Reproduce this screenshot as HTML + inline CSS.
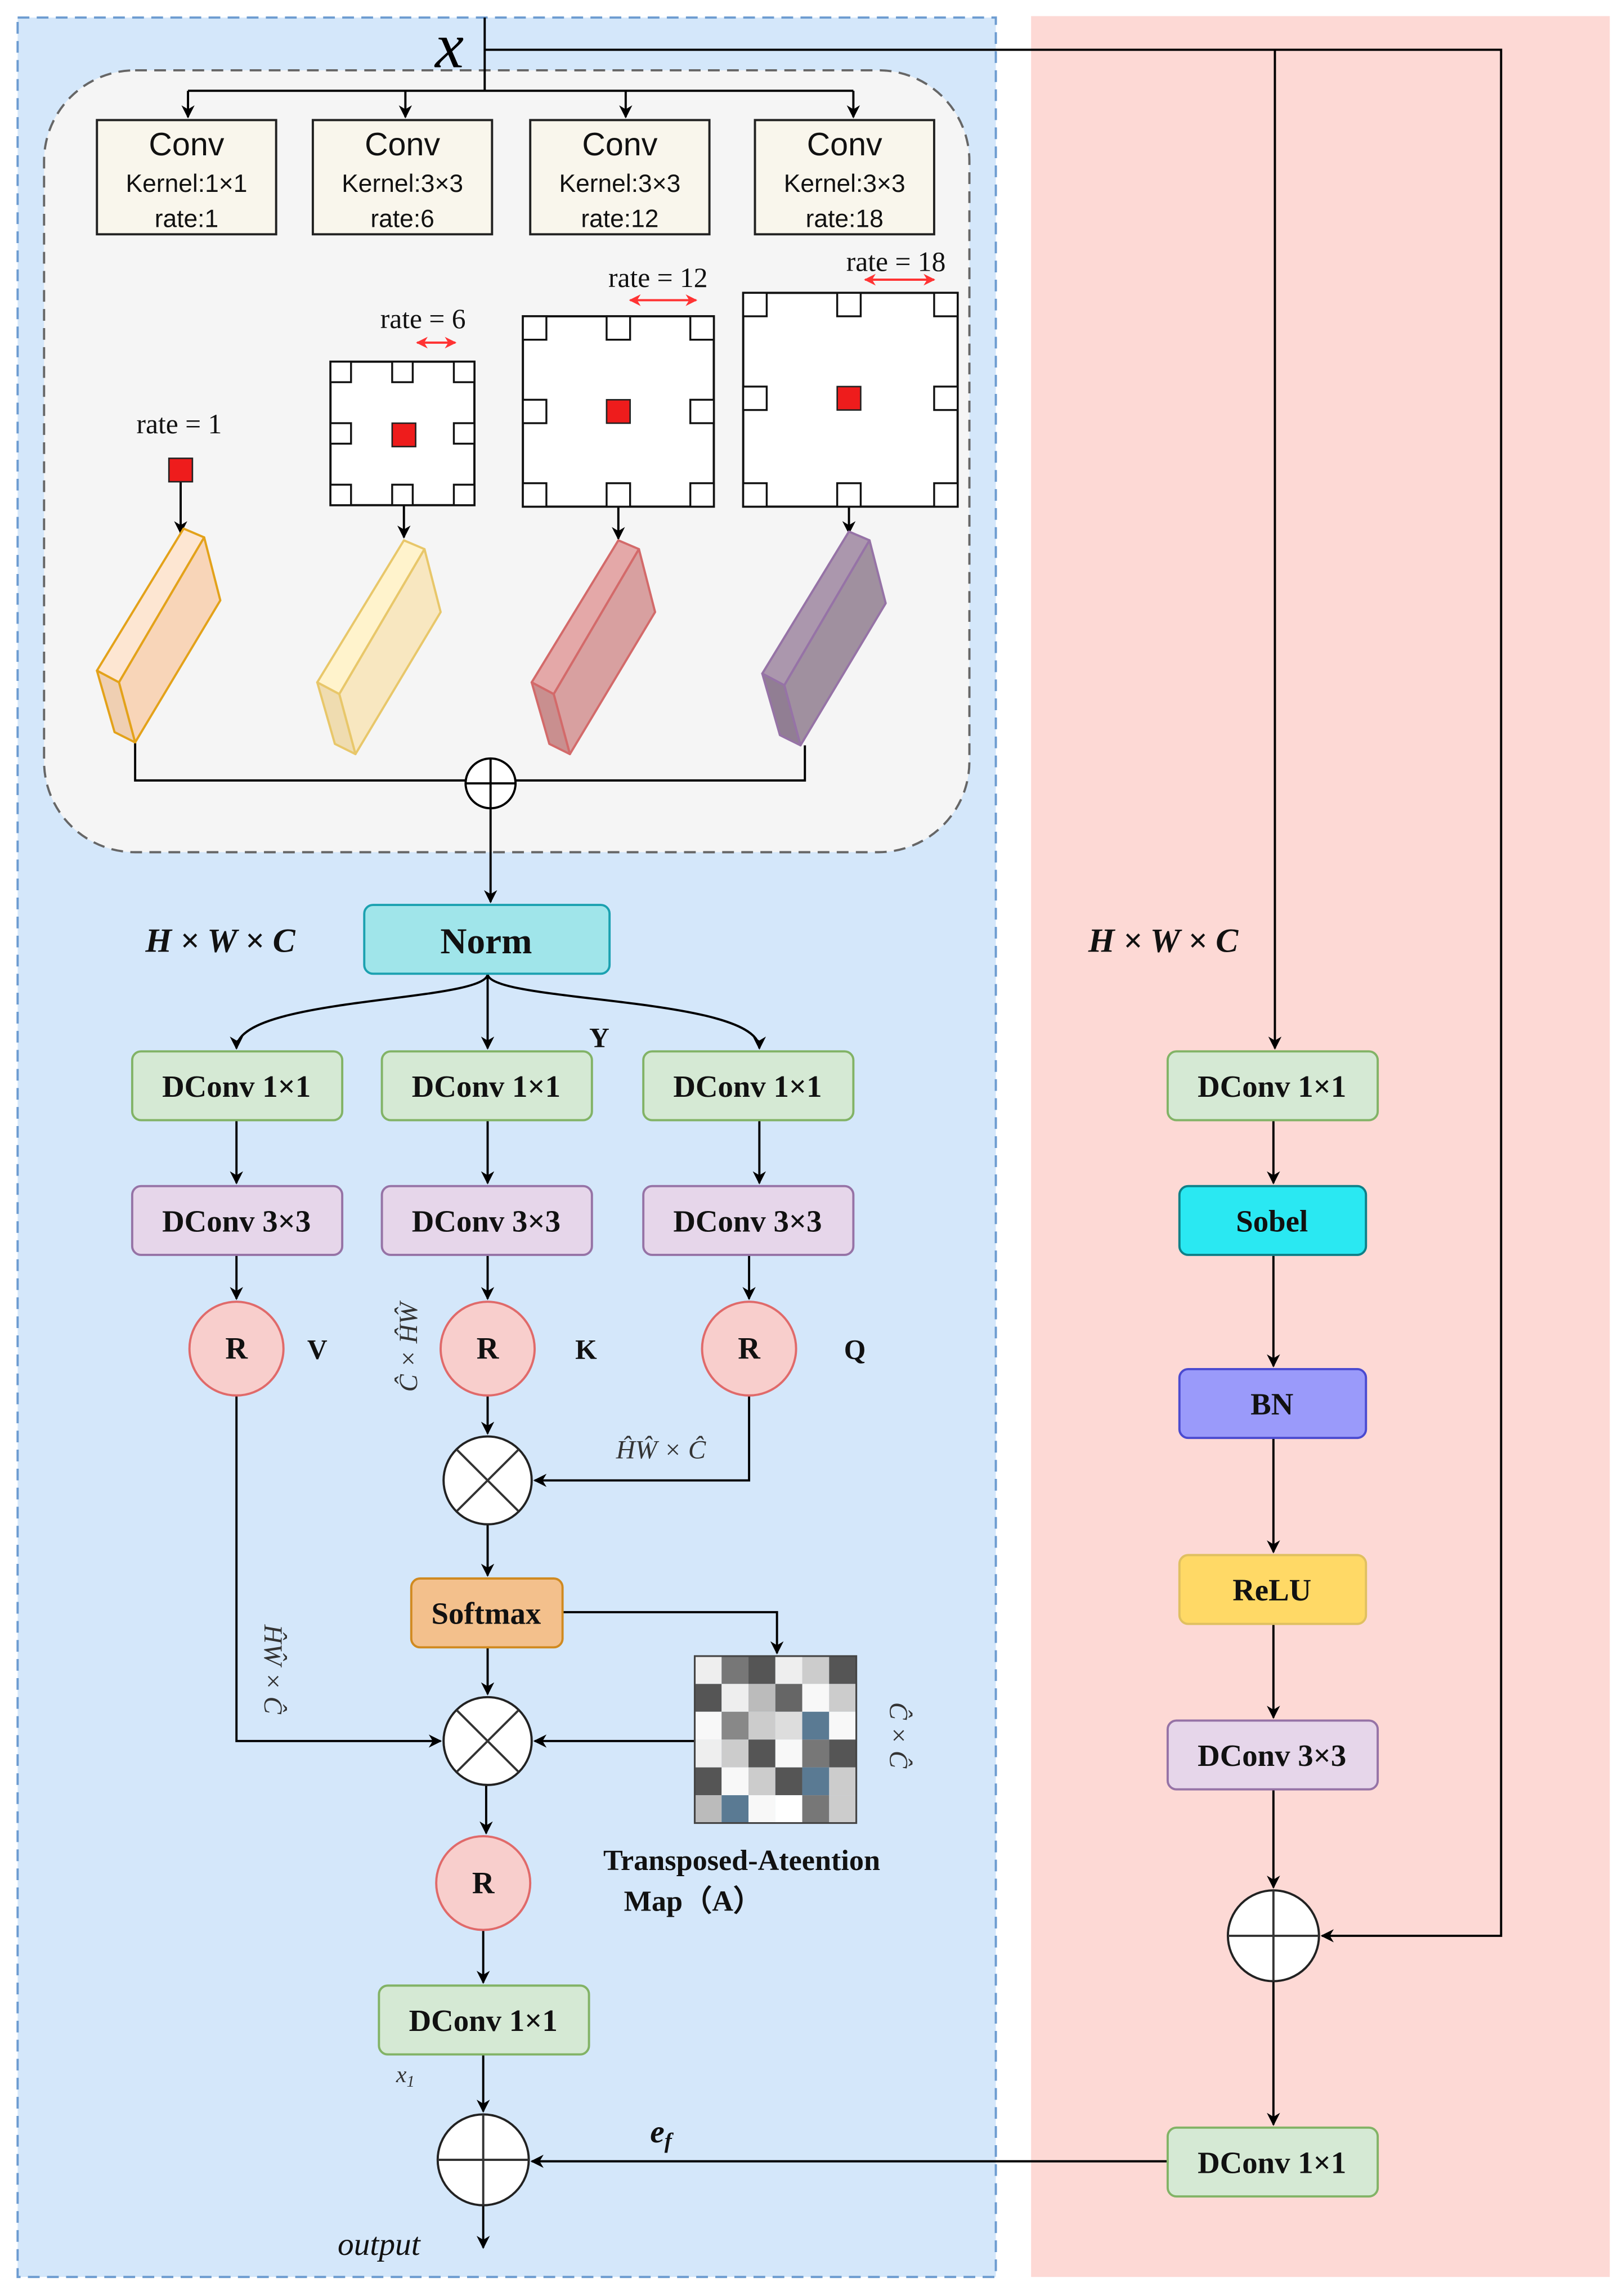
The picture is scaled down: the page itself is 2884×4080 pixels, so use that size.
<!DOCTYPE html>
<html><head><meta charset="utf-8"><style>html,body{margin:0;padding:0;background:#fff}svg{display:block}</style></head>
<body>
<svg width="2884" height="4080" viewBox="0 0 1105 1568" preserveAspectRatio="none" xmlns="http://www.w3.org/2000/svg">
<defs>
<marker id="a" viewBox="0 0 10 10" refX="9" refY="5" markerWidth="9" markerHeight="9" orient="auto-start-reverse" markerUnits="userSpaceOnUse"><path d="M0,0 L10,5 L0,10 L3,5 z" fill="#000"/></marker>
<marker id="r" viewBox="0 0 10 10" refX="9" refY="5" markerWidth="8" markerHeight="8" orient="auto-start-reverse" markerUnits="userSpaceOnUse"><path d="M0,0 L10,5 L0,10 L3,5 z" fill="#f33"/></marker>
</defs>
<rect width="1105" height="1568" fill="#fff"/>
<rect x="12" y="12" width="666" height="1543" fill="#d4e7fa" stroke="#6c9bd0" stroke-width="1.5" stroke-dasharray="8,5"/>
<rect x="702" y="11" width="394" height="1544" fill="#fdd9d5"/>
<rect x="30" y="48" width="630" height="534" rx="62" fill="#f5f5f5" stroke="#666" stroke-width="1.5" stroke-dasharray="8,5"/>

<g stroke="#000" stroke-width="1.5" fill="none">
<path d="M330 12 V62"/>
<path d="M330 34 H1022 V1322 H900" marker-end="url(#a)"/>
<path d="M868 34 V716" marker-end="url(#a)"/>
<path d="M128 62 H581"/>
<path d="M128 62 V80" marker-end="url(#a)"/><path d="M276 62 V80" marker-end="url(#a)"/><path d="M426 62 V80" marker-end="url(#a)"/><path d="M581 62 V80" marker-end="url(#a)"/>
<path d="M123 329 V364" marker-end="url(#a)"/>
<path d="M275 345 V367" marker-end="url(#a)"/>
<path d="M421 346 V368" marker-end="url(#a)"/>
<path d="M578 346 V364" marker-end="url(#a)"/>
<path d="M92 507 V533 H548 V509"/>
<path d="M334 552 V616" marker-end="url(#a)"/>
<path d="M332 665 C332 685 161 680 161 716" marker-end="url(#a)"/>
<path d="M332 665 V716" marker-end="url(#a)"/>
<path d="M332 665 C332 685 517 680 517 716" marker-end="url(#a)"/>
<path d="M161 765 V808" marker-end="url(#a)"/><path d="M332 765 V808" marker-end="url(#a)"/><path d="M517 765 V808" marker-end="url(#a)"/>
<path d="M161 857 V887" marker-end="url(#a)"/><path d="M332 857 V887" marker-end="url(#a)"/><path d="M510 857 V887" marker-end="url(#a)"/>
<path d="M332 953 V979" marker-end="url(#a)"/>
<path d="M510 953 V1011 H364" marker-end="url(#a)"/>
<path d="M332 1041 V1076" marker-end="url(#a)"/>
<path d="M383 1101 H529 V1129" marker-end="url(#a)"/>
<path d="M332 1125 V1157" marker-end="url(#a)"/>
<path d="M161 953 V1189 H300" marker-end="url(#a)"/>
<path d="M473 1189 H364" marker-end="url(#a)"/>
<path d="M331 1219 V1252" marker-end="url(#a)"/>
<path d="M329 1318 V1354" marker-end="url(#a)"/>
<path d="M329 1403 V1442" marker-end="url(#a)"/>
<path d="M329 1506 V1535" marker-end="url(#a)"/>
<path d="M795 1476 H362" marker-end="url(#a)"/>
<path d="M867 765 V808" marker-end="url(#a)"/>
<path d="M867 857 V933" marker-end="url(#a)"/>
<path d="M867 982 V1060" marker-end="url(#a)"/>
<path d="M867 1109 V1173" marker-end="url(#a)"/>
<path d="M867 1222 V1289" marker-end="url(#a)"/>
<path d="M867 1353 V1451" marker-end="url(#a)"/>
</g>

<text x="306" y="46" font-family="Liberation Serif,serif" font-style="italic" font-size="44" text-anchor="middle">x</text>

<g fill="#f9f6ec" stroke="#222" stroke-width="1.5">
<rect x="66" y="82" width="122" height="78"/><rect x="213" y="82" width="122" height="78"/><rect x="361" y="82" width="122" height="78"/><rect x="514" y="82" width="122" height="78"/>
</g>
<g font-family="Liberation Sans,sans-serif" text-anchor="middle" fill="#111">
<text x="127" y="106" font-size="22">Conv</text><text x="127" y="131" font-size="17">Kernel:1×1</text><text x="127" y="155" font-size="17">rate:1</text>
<text x="274" y="106" font-size="22">Conv</text><text x="274" y="131" font-size="17">Kernel:3×3</text><text x="274" y="155" font-size="17">rate:6</text>
<text x="422" y="106" font-size="22">Conv</text><text x="422" y="131" font-size="17">Kernel:3×3</text><text x="422" y="155" font-size="17">rate:12</text>
<text x="575" y="106" font-size="22">Conv</text><text x="575" y="131" font-size="17">Kernel:3×3</text><text x="575" y="155" font-size="17">rate:18</text>
</g>

<g font-family="Liberation Serif,serif" font-size="19" text-anchor="middle" fill="#111">
<text x="122" y="296">rate = 1</text><text x="288" y="224">rate = 6</text><text x="448" y="196">rate = 12</text><text x="610" y="185">rate = 18</text>
</g>
<g stroke="#f33" stroke-width="1.5"><path d="M284 234 H310" marker-start="url(#r)" marker-end="url(#r)"/><path d="M429 205 H474" marker-start="url(#r)" marker-end="url(#r)"/><path d="M589 191 H636" marker-start="url(#r)" marker-end="url(#r)"/></g>
<rect x="115" y="313" width="16" height="16" fill="#ee1c1c" stroke="#222"/>

<g stroke="#111" stroke-width="1.5" fill="#fff">
<rect x="225" y="247" width="98" height="98"/>
<rect x="356" y="216" width="130" height="130"/>
<rect x="506" y="200" width="146" height="146"/>
</g>
<g stroke="#111" stroke-width="1.3" fill="#fff">
<rect x="225" y="247" width="14" height="14"/><rect x="267" y="247" width="14" height="14"/><rect x="309" y="247" width="14" height="14"/>
<rect x="225" y="289" width="14" height="14"/><rect x="309" y="289" width="14" height="14"/>
<rect x="225" y="331" width="14" height="14"/><rect x="267" y="331" width="14" height="14"/><rect x="309" y="331" width="14" height="14"/>
<rect x="356" y="216" width="16" height="16"/><rect x="413" y="216" width="16" height="16"/><rect x="470" y="216" width="16" height="16"/>
<rect x="356" y="273" width="16" height="16"/><rect x="470" y="273" width="16" height="16"/>
<rect x="356" y="330" width="16" height="16"/><rect x="413" y="330" width="16" height="16"/><rect x="470" y="330" width="16" height="16"/>
<rect x="506" y="200" width="16" height="16"/><rect x="570" y="200" width="16" height="16"/><rect x="636" y="200" width="16" height="16"/>
<rect x="506" y="264" width="16" height="16"/><rect x="636" y="264" width="16" height="16"/>
<rect x="506" y="330" width="16" height="16"/><rect x="570" y="330" width="16" height="16"/><rect x="636" y="330" width="16" height="16"/>
</g>
<g fill="#ee1c1c" stroke="#222"><rect x="267" y="289" width="16" height="16"/><rect x="413" y="273" width="16" height="16"/><rect x="570" y="264" width="16" height="16"/></g>

<g stroke-width="1.5" stroke-linejoin="round">
<polygon points="66,458 125,361 139,367 81,466" fill="#fde6d2" stroke="#e3a21a"/>
<polygon points="81,466 139,367 150,410 92,507" fill="#f8d5b8" stroke="#e3a21a"/>
<polygon points="66,458 81,466 92,507 78,500" fill="#efcfb2" stroke="#e3a21a"/>
</g>
<g transform="translate(150,8)" stroke-width="1.5" stroke-linejoin="round">
<polygon points="66,458 125,361 139,367 81,466" fill="#fff3cc" stroke="#e8c76a"/>
<polygon points="81,466 139,367 150,410 92,507" fill="#f8e7c0" stroke="#e8c76a"/>
<polygon points="66,458 81,466 92,507 78,500" fill="#efdcb0" stroke="#e8c76a"/>
</g>
<g transform="translate(296,8)" stroke-width="1.5" stroke-linejoin="round">
<polygon points="66,458 125,361 139,367 81,466" fill="#e4a8a8" stroke="#d36a6a"/>
<polygon points="81,466 139,367 150,410 92,507" fill="#d8a0a0" stroke="#d36a6a"/>
<polygon points="66,458 81,466 92,507 78,500" fill="#c98f8f" stroke="#d36a6a"/>
</g>
<g transform="translate(453,2)" stroke-width="1.5" stroke-linejoin="round">
<polygon points="66,458 125,361 139,367 81,466" fill="#ab97ad" stroke="#9673a6"/>
<polygon points="81,466 139,367 150,410 92,507" fill="#a0909f" stroke="#9673a6"/>
<polygon points="66,458 81,466 92,507 78,500" fill="#917e93" stroke="#9673a6"/>
</g>

<g stroke="#000" stroke-width="1.5">
<circle cx="334" cy="535" r="17" fill="#fff"/><path d="M317 535 H351 M334 518 V552"/>
</g>

<rect x="248" y="618" width="167" height="47" rx="6" fill="#a0e5ea" stroke="#1ba1b0" stroke-width="1.5"/>
<g font-family="Liberation Serif,serif" font-weight="bold" fill="#111" text-anchor="middle">
<text x="331" y="651" font-size="25">Norm</text>
<text x="150" y="650" font-size="23" font-style="italic">H × W × C</text>
<text x="792" y="650" font-size="23" font-style="italic">H × W × C</text>
<text x="408" y="715" font-size="19">Y</text>
<text x="216" y="928" font-size="19">V</text><text x="399" y="928" font-size="19">K</text><text x="582" y="928" font-size="19">Q</text>
</g>

<g stroke-width="1.5">
<g fill="#d5e9d4" stroke="#82b366">
<rect x="90" y="718" width="143" height="47" rx="6"/><rect x="260" y="718" width="143" height="47" rx="6"/><rect x="438" y="718" width="143" height="47" rx="6"/>
<rect x="795" y="718" width="143" height="47" rx="6"/><rect x="258" y="1356" width="143" height="47" rx="6"/><rect x="795" y="1453" width="143" height="47" rx="6"/>
</g>
<g fill="#e6d6ea" stroke="#9673a6">
<rect x="90" y="810" width="143" height="47" rx="6"/><rect x="260" y="810" width="143" height="47" rx="6"/><rect x="438" y="810" width="143" height="47" rx="6"/>
<rect x="795" y="1175" width="143" height="47" rx="6"/>
</g>
<rect x="803" y="810" width="127" height="47" rx="6" fill="#2ae8f2" stroke="#0e8088"/>
<rect x="803" y="935" width="127" height="47" rx="6" fill="#9a9afa" stroke="#4a4ad0"/>
<rect x="803" y="1062" width="127" height="47" rx="6" fill="#ffd966" stroke="#e0c060"/>
<rect x="280" y="1078" width="103" height="47" rx="6" fill="#f3c08c" stroke="#d08a20"/>
<g fill="#f8cecc" stroke="#e06a6a">
<circle cx="161" cy="921" r="32"/><circle cx="332" cy="921" r="32"/><circle cx="510" cy="921" r="32"/><circle cx="329" cy="1286" r="32"/>
</g>
</g>

<g font-family="Liberation Serif,serif" font-weight="bold" font-size="21" fill="#111" text-anchor="middle">
<text x="161" y="749">DConv 1×1</text><text x="331" y="749">DConv 1×1</text><text x="509" y="749">DConv 1×1</text>
<text x="866" y="749">DConv 1×1</text><text x="329" y="1387">DConv 1×1</text><text x="866" y="1484">DConv 1×1</text>
<text x="161" y="841">DConv 3×3</text><text x="331" y="841">DConv 3×3</text><text x="509" y="841">DConv 3×3</text>
<text x="866" y="1206">DConv 3×3</text>
<text x="866" y="841">Sobel</text><text x="866" y="966">BN</text><text x="866" y="1093">ReLU</text>
<text x="331" y="1109">Softmax</text>
<text x="161" y="928">R</text><text x="332" y="928">R</text><text x="510" y="928">R</text><text x="329" y="1293">R</text>
<text x="505" y="1277" font-size="20">Transposed-Ateention</text>
<text x="472" y="1305" font-size="20">Map（A）</text>
<text x="450" y="1463" font-size="22" font-style="italic">e<tspan font-size="15" dy="4">f</tspan></text>
</g>

<g stroke="#222" stroke-width="1.5" fill="#fff">
<circle cx="332" cy="1011" r="30"/><circle cx="332" cy="1189" r="30"/>
<circle cx="329" cy="1475" r="31"/><circle cx="867" cy="1322" r="31"/>
</g>
<g stroke="#333" stroke-width="1.5">
<path d="M311 990 L353 1032 M353 990 L311 1032"/>
<path d="M311 1168 L353 1210 M353 1168 L311 1210"/>
<path d="M298 1475 H360 M329 1444 V1506"/>
<path d="M836 1322 H898 M867 1291 V1353"/>
</g>

<g font-family="Liberation Serif,serif" font-style="italic" fill="#333">
<text x="450" y="996" font-size="18" text-anchor="middle">ĤŴ × Ĉ</text>
<text transform="translate(284,920) rotate(-90)" font-size="18" text-anchor="middle">Ĉ × ĤŴ</text>
<text transform="translate(180,1140) rotate(90)" font-size="18" text-anchor="middle">ĤŴ × Ĉ</text>
<text transform="translate(606,1185) rotate(90)" font-size="18" text-anchor="middle">Ĉ × Ĉ</text>
<text x="276" y="1422" font-size="16" text-anchor="middle">x<tspan font-size="11" dy="3">1</tspan></text>
<text x="258" y="1540" font-size="22" text-anchor="middle" fill="#111">output</text>
</g>

<g stroke="none">
<rect x="473" y="1131" width="18.3" height="19" fill="#eee"/><rect x="491.3" y="1131" width="18.3" height="19" fill="#777"/><rect x="509.6" y="1131" width="18.3" height="19" fill="#555"/><rect x="527.9" y="1131" width="18.3" height="19" fill="#eee"/><rect x="546.2" y="1131" width="18.3" height="19" fill="#ccc"/><rect x="564.5" y="1131" width="18.5" height="19" fill="#555"/>
<rect x="473" y="1150" width="18.3" height="19" fill="#555"/><rect x="491.3" y="1150" width="18.3" height="19" fill="#eee"/><rect x="509.6" y="1150" width="18.3" height="19" fill="#bbb"/><rect x="527.9" y="1150" width="18.3" height="19" fill="#666"/><rect x="546.2" y="1150" width="18.3" height="19" fill="#f8f8f8"/><rect x="564.5" y="1150" width="18.5" height="19" fill="#ccc"/>
<rect x="473" y="1169" width="18.3" height="19" fill="#f8f8f8"/><rect x="491.3" y="1169" width="18.3" height="19" fill="#888"/><rect x="509.6" y="1169" width="18.3" height="19" fill="#ccc"/><rect x="527.9" y="1169" width="18.3" height="19" fill="#ddd"/><rect x="546.2" y="1169" width="18.3" height="19" fill="#5a7a93"/><rect x="564.5" y="1169" width="18.5" height="19" fill="#f8f8f8"/>
<rect x="473" y="1188" width="18.3" height="19" fill="#eee"/><rect x="491.3" y="1188" width="18.3" height="19" fill="#ccc"/><rect x="509.6" y="1188" width="18.3" height="19" fill="#555"/><rect x="527.9" y="1188" width="18.3" height="19" fill="#f8f8f8"/><rect x="546.2" y="1188" width="18.3" height="19" fill="#777"/><rect x="564.5" y="1188" width="18.5" height="19" fill="#555"/>
<rect x="473" y="1207" width="18.3" height="19" fill="#555"/><rect x="491.3" y="1207" width="18.3" height="19" fill="#f8f8f8"/><rect x="509.6" y="1207" width="18.3" height="19" fill="#ccc"/><rect x="527.9" y="1207" width="18.3" height="19" fill="#555"/><rect x="546.2" y="1207" width="18.3" height="19" fill="#5a7a93"/><rect x="564.5" y="1207" width="18.5" height="19" fill="#ccc"/>
<rect x="473" y="1226" width="18.3" height="19" fill="#bbb"/><rect x="491.3" y="1226" width="18.3" height="19" fill="#5a7a93"/><rect x="509.6" y="1226" width="18.3" height="19" fill="#f8f8f8"/><rect x="527.9" y="1226" width="18.3" height="19" fill="#fff"/><rect x="546.2" y="1226" width="18.3" height="19" fill="#777"/><rect x="564.5" y="1226" width="18.5" height="19" fill="#ccc"/>
</g>
<rect x="473" y="1131" width="110" height="114" fill="none" stroke="#444" stroke-width="1.2"/>
</svg>
</body></html>
